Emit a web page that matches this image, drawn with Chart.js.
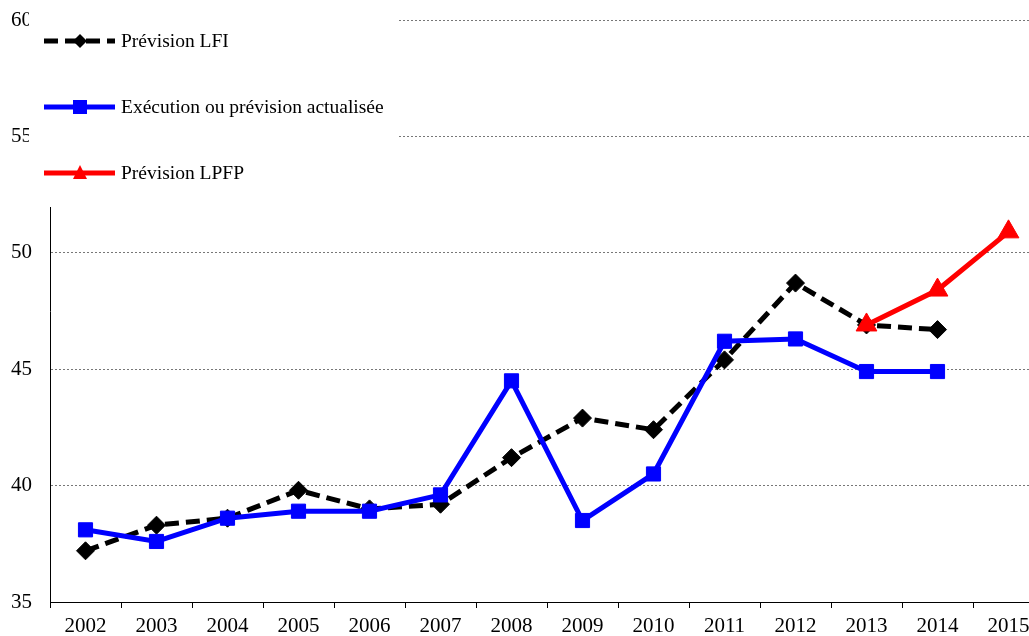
<!DOCTYPE html>
<html lang="fr">
<head>
<meta charset="utf-8">
<title>Prévision LFI / LPFP</title>
<script src="https://cdn.jsdelivr.net/npm/chart.js@4.4.0/dist/chart.umd.min.js"></script>
<style>
  html, body { margin: 0; padding: 0; background: #fff; overflow: hidden; }
  #chart { display: block; }
</style>
</head>
<body>
<canvas id="chart" width="1029" height="636"></canvas>
<script>
const years = ["2002", "2003", "2004", "2005", "2006", "2007", "2008",
  "2009", "2010", "2011", "2012", "2013", "2014", "2015"];
const previsionLFI = [37.2, 38.3, 38.6, 39.8, 39.0, 39.2, 41.2, 42.9, 42.4, 45.4, 48.7, 46.9, 46.7, null];
const execution = [38.1, 37.6, 38.6, 38.9, 38.9, 39.6, 44.5, 38.5, 40.5, 46.2, 46.3, 44.9, 44.9, null];
const previsionLPFP = [null, null, null, null, null, null, null, null, null, null, null, 46.9, 48.4, 50.9];
const seriesLabels = ["Prévision LFI", "Exécution ou prévision actualisée", "Prévision LPFP"];
const yMin = 35;
const yMax = 60;
const yStep = 5;

const FONT = "'Liberation Serif', 'Times New Roman', serif";
const PLOT_RIGHT = 1044; // plot runs past the right edge in the original

// stretch the plot area past the canvas edge after layout
const overhang = {
  id: "overhang",
  afterLayout(chart) {
    const area = chart.chartArea;
    const xs = chart.scales.x;
    area.right = PLOT_RIGHT;
    area.width = PLOT_RIGHT - area.left;
    xs.right = PLOT_RIGHT;
    xs.width = PLOT_RIGHT - xs.left;
    xs.configure();
  }
};

// legend drawn by hand: white box over the top-left corner, like the original
const legendBox = {
  id: "legendBox",
  afterDraw(chart) {
    const ctx = chart.ctx;
    const rows = [41, 107, 173];
    ctx.save();
    ctx.fillStyle = "#fff";
    ctx.fillRect(29, 0, 369, 207);

    chart.data.datasets.forEach((ds, i) => {
      const y = rows[i];
      ctx.beginPath();
      ctx.setLineDash(ds.borderDash || []);
      ctx.lineWidth = ds.borderWidth;
      ctx.strokeStyle = ds.borderColor;
      ctx.moveTo(44, y);
      ctx.lineTo(115, y);
      ctx.stroke();
      ctx.setLineDash([]);

      ctx.fillStyle = ds.borderColor;
      ctx.beginPath();
      if (ds.pointStyle === "rectRot") {
        ctx.moveTo(80, y - 7);
        ctx.lineTo(87, y);
        ctx.lineTo(80, y + 7);
        ctx.lineTo(73, y);
      } else if (ds.pointStyle === "rect") {
        ctx.rect(73, y - 7, 14, 14);
      } else {
        ctx.moveTo(80, y - 8);
        ctx.lineTo(87, y + 6);
        ctx.lineTo(73, y + 6);
      }
      ctx.closePath();
      ctx.fill();

      ctx.fillStyle = "#000";
      ctx.font = "19.5px " + FONT;
      ctx.textBaseline = "middle";
      ctx.textAlign = "left";
      ctx.fillText(ds.label, 121, y + 1);
    });
    ctx.restore();
  }
};

const chart = new Chart(document.getElementById("chart"), {
  type: "line",
  data: {
    labels: years,
    datasets: [
      {
        label: seriesLabels[0],
        data: previsionLFI,
        borderColor: "#000",
        backgroundColor: "#000",
        borderWidth: 5,
        borderDash: [14, 7],
        pointStyle: "rectRot",
        pointRadius: 9,
        pointBorderWidth: 1,
        order: 3,
      },
      {
        label: seriesLabels[1],
        data: execution,
        borderColor: "#0000ff",
        backgroundColor: "#0000ff",
        borderWidth: 5,
        pointStyle: "rect",
        pointRadius: 10,
        pointBorderWidth: 1,
        order: 2,
      },
      {
        label: seriesLabels[2],
        data: previsionLPFP,
        borderColor: "#ff0000",
        backgroundColor: "#ff0000",
        borderWidth: 5,
        pointStyle: "triangle",
        pointRadius: 12,
        pointBorderWidth: 1,
        order: 1,
      },
    ],
  },
  options: {
    responsive: false,
    animation: false,
    layout: { padding: { top: 20, right: 0, left: 0, bottom: 0 } },
    plugins: {
      legend: { display: false },
      tooltip: { enabled: false },
    },
    scales: {
      x: {
        offset: true,
        grid: {
          offset: true,
          drawOnChartArea: false,
          drawTicks: true,
          tickLength: 6,
          color: "#000",
        },
        border: { color: "#000", width: 1 },
        ticks: {
          color: "#000",
          font: { family: FONT, size: 21 },
          padding: 6,
          maxRotation: 0,
        },
        afterFit(scale) {
          scale.height = 34;
          scale.paddingLeft = 0;
          scale.paddingRight = 0;
        },
      },
      y: {
        min: yMin,
        max: yMax,
        grid: {
          color: "#777",
          lineWidth: 1,
          drawTicks: false,
        },
        border: { color: "#000", width: 1, dash: [2, 2] },
        ticks: {
          stepSize: yStep,
          color: "#000",
          font: { family: FONT, size: 21 },
          padding: 18,
        },
        afterFit(scale) {
          scale.width = 50;
          scale.paddingTop = 0;
          scale.paddingBottom = 0;
        },
      },
    },
  },
  plugins: [overhang, legendBox],
});
</script>
</body>
</html>
